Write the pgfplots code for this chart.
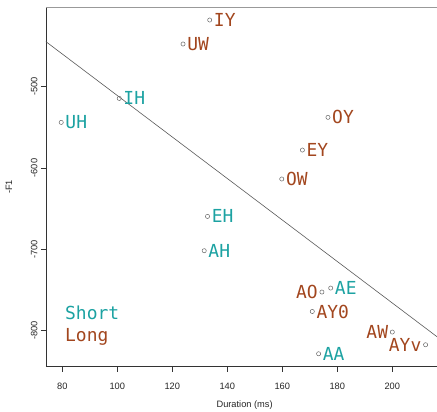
\documentclass[border=0pt]{standalone}
\usepackage{fontspec}
\setmainfont{Liberation Sans}
\newfontfamily\monofont{DejaVu Sans Mono}
\usepackage{pgfplots}
\usepackage{pgfplotstable}
\pgfplotsset{compat=1.18}
\definecolor{shortc}{RGB}{28,162,162}
\definecolor{longc}{RGB}{162,70,30}

\pgfplotstableread{
label x y
IH 100.7 -514.4
UH 79.6 -543.9
EH 132.8 -659.5
AH 131.6 -701.7
AE 177.6 -747.6
AA 173.2 -828.4
}\shortdata

% rows 0-5: label right of point; rows 6-8: label left of point
\pgfplotstableread{
label x y
IY 133.6 -418.0
UW 123.9 -447.5
OY 176.6 -537.7
EY 167.3 -577.9
OW 159.8 -613.5
AY0 170.9 -776.4
AO 174.4 -752.5
AW 200.0 -801.7
AYv 212.1 -817.3
}\longdata

\tikzset{lab/.style={font=\monofont\fontsize{18}{18}\selectfont, inner sep=0pt}}
\pgfplotsset{
  vowel/.style={only marks, mark=o, mark size=2.1bp, color=black!60, mark options={line width=0.5pt},
    point meta=explicit symbolic, nodes near coords},
}

\begin{document}
\begin{tikzpicture}
\begin{axis}[
  name=ax,
  scale only axis, width=391bp, height=359.7bp,
  xmin=74.07, xmax=216.25, ymin=-844.3, ymax=-402.0,
  axis x line*=bottom, axis y line*=left,
  axis line style={black!80, line width=0.6pt},
  xtick={80,100,...,200}, ytick={-800,-700,-600,-500},
  tick align=outside, major tick length=5bp,
  tick style={black!80, line width=0.6pt},
  /pgf/number format/assume math mode=true,
  ticklabel style={font=\fontsize{9.3}{10}\selectfont, text=black!85},
  xticklabel style={yshift=-8bp},
  yticklabel style={rotate=90, anchor=south},
  xlabel={Duration (ms)}, ylabel={-F1},
  label style={font=\fontsize{9.3}{10}\selectfont, text=black!85},
  xlabel style={at={(axis description cs:0.508,-0.1056)}, anchor=center},
  ylabel style={at={(axis description cs:-0.0946,0.5)}, anchor=center},
  clip mode=individual,
]
\draw[gray!80, line width=0.7pt] (rel axis cs:0,1) -- (rel axis cs:1,1);
\addplot[no marks, color=black!65, line width=0.6pt] coordinates {(70,-434.3) (220,-817.0)};
\addplot[vowel, every node near coord/.append style={lab, text=shortc, anchor=west, xshift=4bp}]
  table[x=x, y=y, meta=label] {\shortdata};
\addplot[vowel, skip coords between index={6}{9}, every node near coord/.append style={lab, text=longc, anchor=west, xshift=4bp}]
  table[x=x, y=y, meta=label] {\longdata};
\addplot[vowel, skip coords between index={0}{6}, every node near coord/.append style={lab, text=longc, anchor=east, xshift=-4bp}]
  table[x=x, y=y, meta=label] {\longdata};
\node[lab, anchor=base west, text=shortc] at (rel axis cs:0.0486,0.1326) {Short};
\node[lab, anchor=base west, text=longc] at (rel axis cs:0.0486,0.070) {Long};
\end{axis}
\pgfresetboundingbox
\path[use as bounding box] ([xshift=-46bp,yshift=-45.3bp]ax.south west) rectangle ([yshift=7bp]ax.north east);
\end{tikzpicture}
\end{document}
